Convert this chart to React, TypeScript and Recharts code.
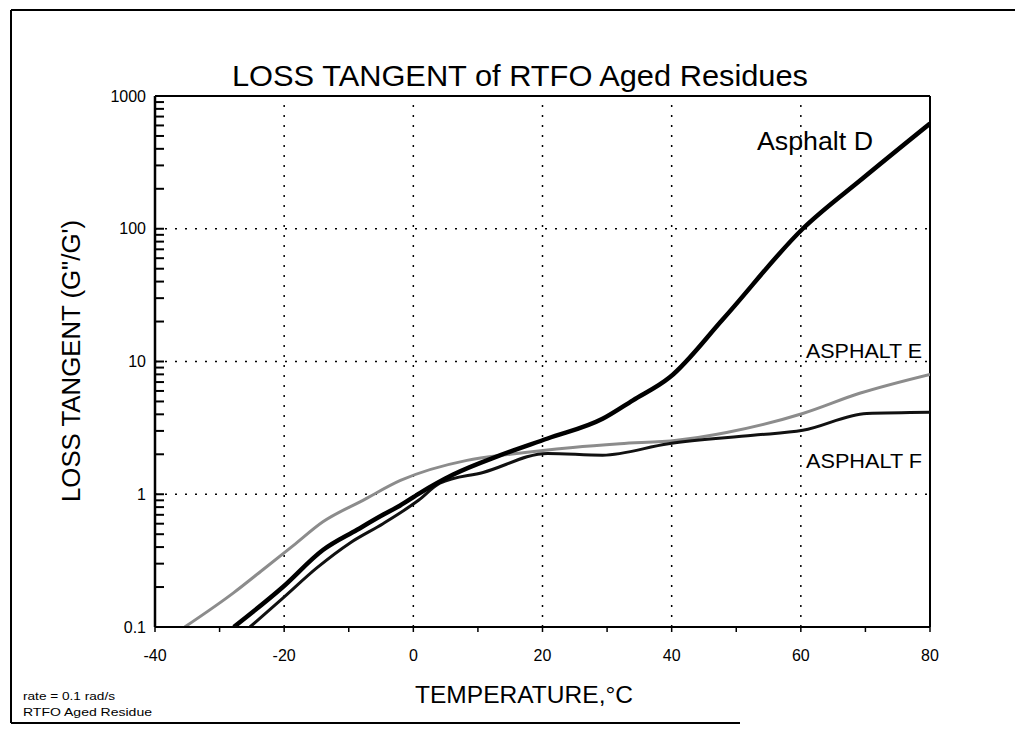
import React from 'react';
import { LineChart, Line, XAxis, YAxis, ReferenceLine } from 'recharts';

// temperature (°C) vs loss tangent
const asphaltD = [
  { t: -27.8, v: 0.1 }, { t: -20.2, v: 0.2 }, { t: -14, v: 0.38 }, { t: -8.7, v: 0.54 },
  { t: -4.7, v: 0.7 }, { t: -2.1, v: 0.82 }, { t: 1, v: 1.02 }, { t: 6.1, v: 1.4 },
  { t: 13.4, v: 1.96 }, { t: 20.8, v: 2.63 }, { t: 29.3, v: 3.7 }, { t: 34, v: 5.1 },
  { t: 39.7, v: 7.6 }, { t: 48, v: 21 }, { t: 60.3, v: 100 }, { t: 69.6, v: 240 },
  { t: 80, v: 620 },
];

const asphaltE = [
  { t: -35.4, v: 0.1 }, { t: -27.9, v: 0.18 }, { t: -23.3, v: 0.27 }, { t: -18.6, v: 0.41 },
  { t: -14, v: 0.62 }, { t: -7.8, v: 0.9 }, { t: -2, v: 1.27 }, { t: 8.3, v: 1.8 },
  { t: 15, v: 2.0 }, { t: 24.7, v: 2.25 }, { t: 32, v: 2.4 }, { t: 40.8, v: 2.55 },
  { t: 48.5, v: 2.92 }, { t: 60.3, v: 4.06 }, { t: 69.1, v: 5.76 }, { t: 80, v: 8.0 },
];

const asphaltF = [
  { t: -25.3, v: 0.1 }, { t: -20.2, v: 0.165 }, { t: -14.9, v: 0.28 }, { t: -9.8, v: 0.43 },
  { t: -4.7, v: 0.6 }, { t: 0.8, v: 0.9 }, { t: 4.1, v: 1.21 }, { t: 10.8, v: 1.46 },
  { t: 20.8, v: 2.03 }, { t: 29.3, v: 1.97 }, { t: 39.5, v: 2.4 }, { t: 52.6, v: 2.78 },
  { t: 60.3, v: 3.03 }, { t: 70.2, v: 4.06 }, { t: 80, v: 4.15 },
];

const xTicks = [-40, -30, -20, -10, 0, 10, 20, 30, 40, 50, 60, 70, 80];
const xLabels = [-40, -20, 0, 20, 40, 60, 80];
const xGrid = [-20, 0, 20, 40, 60];

const yMajorTicks = [0.1, 1, 10, 100, 1000];
const yMinorTicks = [
  0.2, 0.3, 0.4, 0.5, 0.6, 0.7, 0.8, 0.9,
  2, 3, 4, 5, 6, 7, 8, 9,
  20, 30, 40, 50, 60, 70, 80, 90,
  200, 300, 400, 500, 600, 700, 800, 900,
];
const yGrid = [1, 10, 100];

const FONT = '"Liberation Sans", Arial, sans-serif';
const tickFont = { fontSize: 16, fill: '#000', fontFamily: FONT };

export default function App() {
  return (
    <div style={{ position: 'absolute', left: 0, top: 0, width: 1015, height: 733, background: '#fff' }}>
      <LineChart width={1015} height={733} margin={{ top: 96, right: 85, left: 95, bottom: 76 }}>
        {xGrid.map((t) => (
          <ReferenceLine key={'gx' + t} x={t} stroke="#000" strokeWidth={1.5} strokeDasharray="2 8" />
        ))}
        {yGrid.map((v) => (
          <ReferenceLine key={'gy' + v} y={v} stroke="#000" strokeWidth={1.5} strokeDasharray="2 8" />
        ))}
        <ReferenceLine y={1000} stroke="#000" strokeWidth={2} />
        <ReferenceLine x={80} stroke="#000" strokeWidth={2} />

        <XAxis
          type="number"
          dataKey="t"
          domain={[-40, 80]}
          ticks={xTicks}
          interval={0}
          allowDataOverflow
          height={30}
          tickSize={5}
          tickMargin={18}
          tickLine={{ stroke: '#000', strokeWidth: 1.5 }}
          tick={tickFont}
          tickFormatter={(v: number) => (xLabels.includes(v) ? String(v) : '')}
          axisLine={{ stroke: '#000', strokeWidth: 2 }}
        />
        {/* negative tickSize turns the log tick marks inward, into the plot */}
        <YAxis
          type="number"
          scale="log"
          domain={[0.1, 1000]}
          ticks={[...yMajorTicks, ...yMinorTicks]}
          interval={0}
          allowDataOverflow
          width={60}
          tickSize={-9}
          tickMargin={18}
          tickLine={{ stroke: '#000', strokeWidth: 2 }}
          tick={tickFont}
          tickFormatter={(v: number) => (yMajorTicks.includes(v) ? String(v) : '')}
          axisLine={{ stroke: '#000', strokeWidth: 2.5 }}
        />
        <Line data={asphaltE} dataKey="v" type="monotone" stroke="#8c8c8c" strokeWidth={3} dot={false} isAnimationActive={false} />
        <Line data={asphaltF} dataKey="v" type="monotone" stroke="#111" strokeWidth={3} dot={false} isAnimationActive={false} />
        <Line data={asphaltD} dataKey="v" type="monotone" stroke="#000" strokeWidth={4.5} dot={false} isAnimationActive={false} />
      </LineChart>

      <svg width={1015} height={733} style={{ position: 'absolute', left: 0, top: 0, pointerEvents: 'none' }}>
        <line x1={11} y1={10} x2={1015} y2={10} stroke="#000" strokeWidth={2} />
        <line x1={11} y1={10} x2={11} y2={723} stroke="#000" strokeWidth={2} />
        <line x1={11} y1={723} x2={740} y2={723} stroke="#000" strokeWidth={2} />
        <text x={520} y={86} textAnchor="middle" fontSize={30} fontFamily={FONT} fill="#000" textLength={576} lengthAdjust="spacingAndGlyphs">
          LOSS TANGENT of RTFO Aged Residues
        </text>
        <text x={524} y={703} textAnchor="middle" fontSize={23.5} fontFamily={FONT} fill="#000" textLength={218} lengthAdjust="spacingAndGlyphs">
          TEMPERATURE,°C
        </text>
        <text x={80} y={361} textAnchor="middle" fontSize={25} fontFamily={FONT} fill="#000" transform="rotate(-90 80 361)" textLength={282} lengthAdjust="spacingAndGlyphs">
          LOSS TANGENT (G"/G')
        </text>
        <text x={757} y={150} fontSize={26} fontFamily={FONT} fill="#000" textLength={116} lengthAdjust="spacingAndGlyphs">Asphalt D</text>
        <text x={806} y={358} fontSize={21} fontFamily={FONT} fill="#000" textLength={116} lengthAdjust="spacingAndGlyphs">ASPHALT E</text>
        <text x={806} y={468} fontSize={21} fontFamily={FONT} fill="#000" textLength={116} lengthAdjust="spacingAndGlyphs">ASPHALT F</text>
        <text x={23} y={700} fontSize={11} fontFamily={FONT} fill="#000" textLength={92} lengthAdjust="spacingAndGlyphs">rate = 0.1 rad/s</text>
        <text x={23} y={716} fontSize={11} fontFamily={FONT} fill="#000" textLength={129} lengthAdjust="spacingAndGlyphs">RTFO Aged Residue</text>
      </svg>
    </div>
  );
}
